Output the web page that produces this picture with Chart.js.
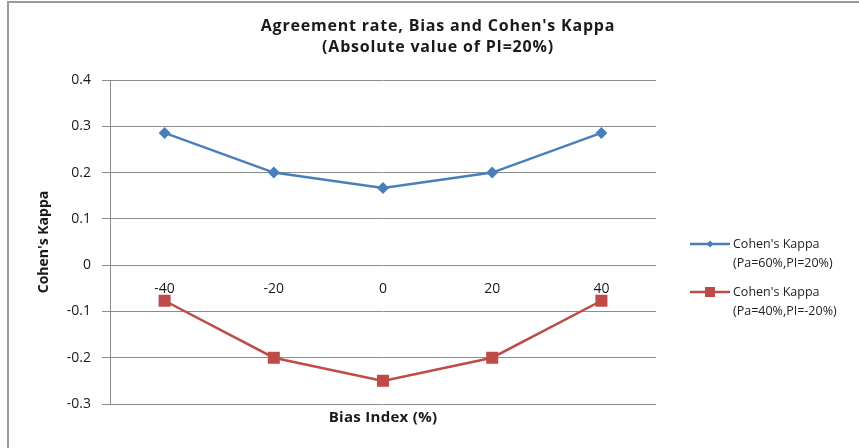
<!DOCTYPE html>
<html>
<head>
<meta charset="utf-8">
<script src="https://cdn.jsdelivr.net/npm/chart.js@4/dist/chart.umd.min.js"></script>
<style>
  html, body { margin: 0; padding: 0; background: #fff; }
  #frame { position: absolute; left: 7px; top: 1px; width: 852px; height: 447px; border-left: 2px solid #9a9a9a; border-top: 2px solid #9a9a9a; box-sizing: border-box; }
  #wrap { position: absolute; left: 0; top: 0; width: 859px; height: 448px; }
</style>
</head>
<body>
<div id="frame"></div>
<div id="wrap"><canvas id="c" width="859" height="448"></canvas></div>
<script>
const categories = ['-40', '-20', '0', '20', '40'];
const kappaPa60 = [0.2857, 0.2, 0.1667, 0.2, 0.2857];
const kappaPa40 = [-0.0769, -0.2, -0.25, -0.2, -0.0769];
const seriesNames = [
  ["Cohen's Kappa", "(Pa=60%,PI=20%)"],
  ["Cohen's Kappa", "(Pa=40%,PI=-20%)"]
];
const titleLines = ["Agreement rate, Bias and Cohen's Kappa", "(Absolute value of PI=20%)"];
const xTitle = 'Bias Index (%)';
const yTitle = "Cohen's Kappa";
const yMin = -0.3, yMax = 0.4, yStep = 0.1;

const BLUE = '#4a7ebb';
const RED = '#be4b48';
const FONT = "'Open Sans', 'Liberation Sans', sans-serif";

const decor = {
  id: 'decor',
  afterDraw(chart) {
    const ctx = chart.ctx;
    const area = chart.chartArea;
    ctx.save();
    ctx.fillStyle = '#1a1a1a';
    ctx.textAlign = 'center';
    ctx.textBaseline = 'middle';
    ctx.font = 'bold 16px ' + FONT;
    ctx.letterSpacing = '0.8px';
    ctx.fillText(titleLines[0], 438, 26);
    ctx.fillText(titleLines[1], 438, 47);
    ctx.letterSpacing = '0.3px';
    ctx.font = 'bold 15px ' + FONT;
    ctx.fillText(xTitle, (area.left + area.right) / 2, 418);
    ctx.letterSpacing = '0px';
    // legend
    const colors = [BLUE, RED];
    const ys = [244, 292];
    chart.data.datasets.forEach((ds, i) => {
      const y = ys[i];
      ctx.strokeStyle = colors[i];
      ctx.lineWidth = 2.5;
      ctx.beginPath();
      ctx.moveTo(690, y);
      ctx.lineTo(730, y);
      ctx.stroke();
      ctx.fillStyle = colors[i];
      if (i === 0) {
        ctx.beginPath();
        ctx.moveTo(710, y - 3.5); ctx.lineTo(713.5, y); ctx.lineTo(710, y + 3.5); ctx.lineTo(706.5, y);
        ctx.closePath(); ctx.fill();
      } else {
        ctx.fillRect(705, y - 5, 10, 10);
      }
      ctx.fillStyle = '#222';
      ctx.textAlign = 'left';
      ctx.font = '12.5px ' + FONT;
      ctx.fillText(seriesNames[i][0], 733, y);
      ctx.fillText(seriesNames[i][1], 733, y + 19);
    });
    ctx.restore();
  }
};

new Chart(document.getElementById('c'), {
  type: 'line',
  data: {
    labels: categories,
    datasets: [
      {
        label: seriesNames[0].join(' '),
        data: kappaPa60,
        borderColor: BLUE,
        backgroundColor: BLUE,
        borderWidth: 2.5,
        pointStyle: 'rectRot',
        pointRadius: 6,
        pointHoverRadius: 6,
        pointBorderWidth: 0,
        tension: 0
      },
      {
        label: seriesNames[1].join(' '),
        data: kappaPa40,
        borderColor: RED,
        backgroundColor: RED,
        borderWidth: 2.5,
        pointStyle: 'rect',
        pointRadius: 8.5,
        pointHoverRadius: 8.5,
        pointBorderWidth: 0,
        tension: 0
      }
    ]
  },
  options: {
    responsive: false,
    animation: false,
    devicePixelRatio: 1,
    layout: { padding: { left: 0, right: 203, top: 80, bottom: 44 } },
    plugins: { legend: { display: false }, tooltip: { enabled: false }, title: { display: false } },
    scales: {
      x: {
        type: 'category',
        offset: true,
        position: { y: 0 },
        grid: { display: false, drawTicks: false },
        border: { display: false },
        ticks: { color: '#1a1a1a', font: { family: FONT, size: 14 }, padding: 15, maxRotation: 0 },
        afterFit(s) { s.height = 0; }
      },
      y: {
        min: yMin,
        max: yMax,
        afterFit(s) { s.width = 110; },
        ticks: {
          stepSize: yStep,
          color: '#1a1a1a',
          font: { family: FONT, size: 14 },
          padding: 11,
          callback: v => String(Math.round(v * 10) / 10)
        },
        grid: { color: '#8c8c8c', lineWidth: 1, tickLength: 8 },
        border: { color: '#8c8c8c', width: 1 },
        title: {
          display: true,
          text: yTitle,
          color: '#1a1a1a',
          font: { family: FONT, size: 14, weight: 'bold' },
          padding: { top: 36, bottom: 0 }
        }
      }
    }
  },
  plugins: [decor]
});
</script>
</body>
</html>
